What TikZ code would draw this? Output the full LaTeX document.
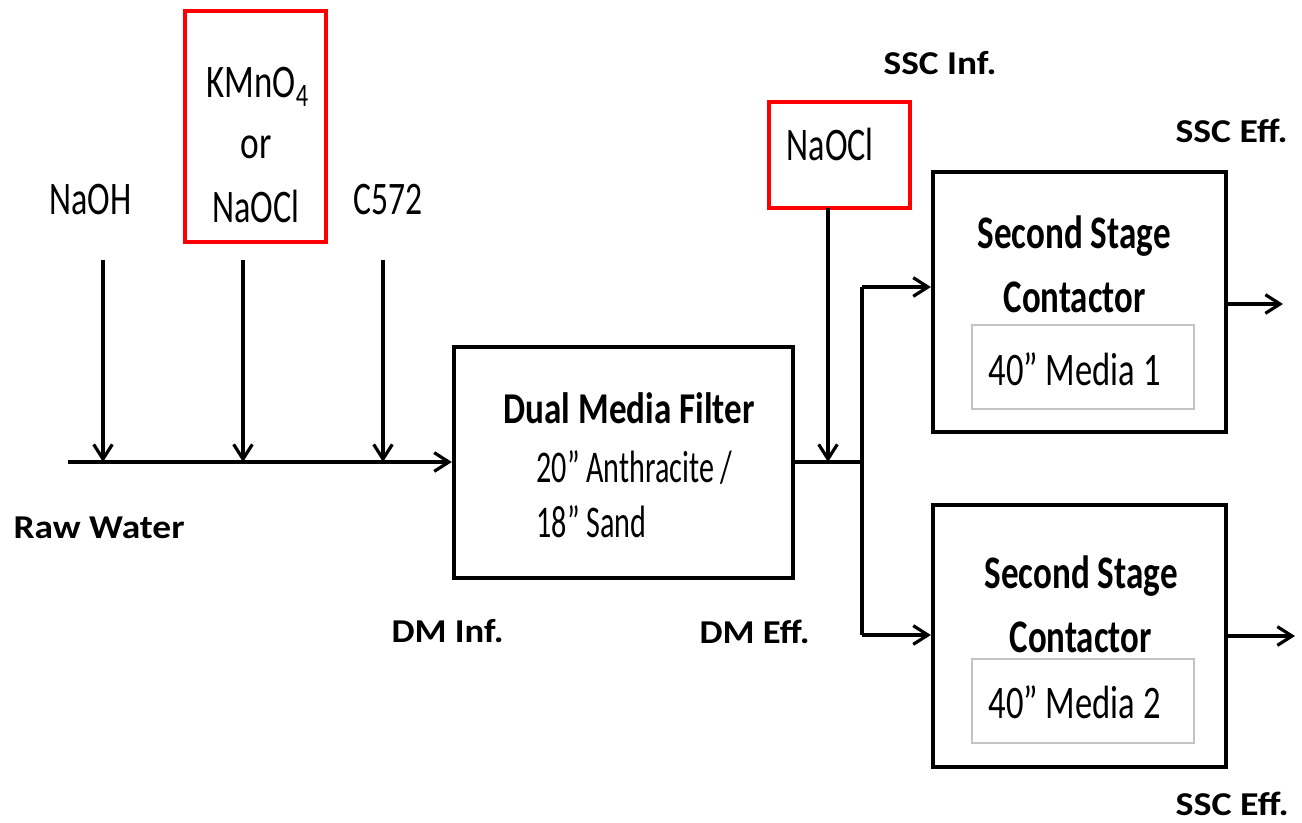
\documentclass[tikz,border=0pt]{standalone}
\usepackage{fontspec}
\setmainfont{Carlito}
\usepackage{graphicx}
\usetikzlibrary{arrows.meta,fit}
\newlength\pxu \setlength\pxu{0.75pt}
\newcommand\tx[2]{\resizebox{#1\pxu}{\height}{#2}}
\definecolor{boxred}{RGB}{255,0,0}
\definecolor{innergray}{RGB}{195,195,195}
\begin{document}
\begin{tikzpicture}[x=0.75pt,y=-0.75pt,
  line width=2.4pt,
  box/.style={draw=black, line width=3.2pt, inner sep=0pt},
  redbox/.style={draw=boxred, line width=3pt, inner sep=0pt},
  innerbox/.style={draw=innergray, line width=0.9pt, inner sep=0pt},
  arr/.style={-{Straight Barb[length=11pt,width=14pt,line width=2.4pt]}},
  reg/.style={anchor=base west, inner sep=0pt, font=\fontsize{35}{40}\selectfont},
  regs/.style={anchor=base west, inner sep=0pt, font=\fontsize{34}{39}\selectfont},
  tit/.style={anchor=base west, inner sep=0pt, font=\fontsize{35}{40}\selectfont\bfseries},
  tits/.style={anchor=base west, inner sep=0pt, font=\fontsize{33}{38}\selectfont\bfseries},
  lab/.style={anchor=base west, inner sep=0pt, font=\fontsize{25}{30}\selectfont\bfseries}]
\useasboundingbox (0,0) rectangle (1302,822);
\fill[white] (0,0) rectangle (1302,822);

% boxes
\node[redbox, fit={(185,11) (326,242)}] (red1) {};
\node[box, fit={(454,347) (793,578)}] (dmf) {};
\node[redbox, fit={(769,102) (910,208)}] (red2) {};
\node[box, fit={(933,172) (1226,432)}] (ssc1) {};
\node[innerbox, fit={(972,325) (1194,409)}] (in1) {};
\node[box, fit={(933,505) (1226,767)}] (ssc2) {};
\node[innerbox, fit={(972,659) (1194,743)}] (in2) {};

% texts
\node[reg] (tnaoh) at (48,214) {\tx{82}{NaOH}};
\node[reg] (tk) at (205,97) {\tx{102}{KMnO\textsubscript{4}}};
\node[reg] (tor) at (239,158) {\tx{31}{or}};
\node[reg] (tnaocl1) at (211,222) {\tx{87}{NaOCl}};
\node[reg] (tc) at (352,214) {\tx{69}{C572}};
\node[tits] (tdmf) at (502,423) {\tx{251}{Dual Media Filter}};
\node[regs] (tanth) at (535,482) {\tx{196}{20” Anthracite /}};
\node[regs] (tsand) at (535,537) {\tx{110}{18” Sand}};
\node[reg] (tnaocl2) at (785,160) {\tx{87}{NaOCl}};
\node[tit] (ts1) at (976,248) {\tx{193}{Second Stage}};
\node[tit] (tc1) at (1002,312) {\tx{142}{Contactor}};
\node[reg] (tm1) at (987,385) {\tx{172}{40” Media 1}};
\node[tit] (ts2) at (983,588) {\tx{193}{Second Stage}};
\node[tit] (tc2) at (1008,652) {\tx{142}{Contactor}};
\node[reg] (tm2) at (987,718) {\tx{172}{40” Media 2}};

% labels
\node[lab] (lraw) at (12,538) {\tx{171}{Raw Water}};
\node[lab] (ldmi) at (390,642) {\tx{112}{DM Inf.}};
\node[lab] (ldme) at (698,643) {\tx{110}{DM Eff.}};
\node[lab] (lssci) at (882,74) {\tx{113}{SSC Inf.}};
\node[lab] (lssce1) at (1174,142) {\tx{112}{SSC Eff.}};
\node[lab] (lssce2) at (1174,815) {\tx{113}{SSC Eff.}};

% coordinates
\coordinate (rw) at (68,462);
\coordinate (c1) at (103,260);
\coordinate (c2) at (243,260);
\coordinate (c3) at (383,260);
\coordinate (d2) at (828,208);
\coordinate (j) at (862,462);
\coordinate (b1) at (862,287);
\coordinate (b2) at (862,635);
\coordinate (o1) at (1283,304);
\coordinate (o2) at (1295,636);

% connectors
\draw[arr] (rw) -- (rw -| dmf.west);
\draw[arr] (c1) -- (c1 |- rw);
\draw[arr] (c2) -- (c2 |- rw);
\draw[arr] (c3) -- (c3 |- rw);
\draw (j -| dmf.east) -- (j);
\draw[arr] (d2) -- (d2 |- j);
\draw (b1) -- (b2);
\draw[arr] (b1) -- (b1 -| ssc1.west);
\draw[arr] (b2) -- (b2 -| ssc2.west);
\draw[arr] (o1 -| ssc1.east) -- (o1);
\draw[arr] (o2 -| ssc2.east) -- (o2);
\end{tikzpicture}
\end{document}
